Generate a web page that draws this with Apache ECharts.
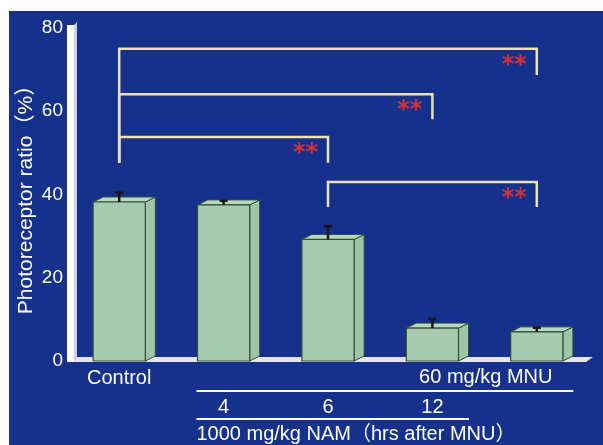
<!DOCTYPE html>
<html>
<head>
<meta charset="utf-8">
<script src="https://cdn.jsdelivr.net/npm/echarts@6/dist/echarts.min.js"></script>
<style>
html,body{margin:0;padding:0;background:#ffffff;width:603px;height:445px;overflow:hidden;}
#chart{position:absolute;left:9px;top:11px;width:594px;height:434px;}
</style>
</head>
<body>
<div id="chart"></div>
<script>
// ---- data ----
const categories = ['Control', 'NAM 4 h', 'NAM 6 h', 'NAM 12 h', 'MNU only'];
const ratioValues = [38.2, 37.5, 29.2, 7.9, 7.0];
const errorValues = [2.2, 1.0, 3.2, 2.2, 1.0];
const yTickLabels = ['0', '20', '40', '60', '80'];
const mainTickLabels = ['Control', '', '', '', ''];
const hourTickLabels = ['', '4', '6', '12', ''];
const sigFrom = [0, 0, 0, 2];
const sigTo = [4, 3, 2, 4];
const sigLevel = [75.0, 64.1, 53.8, 43.0];
const sigDropFrom = [47.6, 47.6, 47.6, 37.0];
const sigDropTo = [68.7, 58.1, 47.6, 37.0];
const sigMarks = ['**', '**', '**', '**'];
const groupTitleMNU = '60 mg/kg MNU';
const groupTitleNAM = '1000 mg/kg NAM（hrs after MNU）';
const yAxisTitle = 'Photoreceptor ratio（%）';

const FONT = '"Liberation Sans", Arial, "Noto Sans CJK SC", sans-serif';
const chart = echarts.init(document.getElementById('chart'), null, {renderer: 'canvas'});

function renderStage(params, api) {
  const cs = params.coordSys;
  const l = cs.x, t = cs.y, b = cs.y + cs.height, r = cs.x + cs.width;
  return {
    type: 'group',
    children: [
      {type: 'polygon', shape: {points: [[l, b + 1], [r - 3, b + 1], [r + 4, b - 4], [l + 7, b - 4]]},
       style: {fill: '#e6e4f4'}},
      {type: 'rect', shape: {x: l, y: t - 3, width: 7, height: b - t + 4}, style: {fill: '#ffffff'}},
      {type: 'polygon', shape: {points: [[l + 7, t - 3], [l + 10, t - 6], [l + 10, b - 4], [l + 7, b + 1]]},
       style: {fill: '#cfd0e8'}}
    ]
  };
}

function renderBar(params, api) {
  const i = api.value(0), v = api.value(1), e = api.value(2);
  const base = api.coord([i, 0]);
  const top = api.coord([i, v]);
  const errTop = api.coord([i, v + e]);
  const bw = api.size([1, 0])[0] * 0.5;
  const x0 = base[0] - bw / 2, x1 = base[0] + bw / 2;
  const dx = 10, dy = 5;
  const stroke = '#2f4f38';
  return {
    type: 'group',
    children: [
      {type: 'polygon', shape: {points: [[x1, top[1]], [x1 + dx, top[1] - dy], [x1 + dx, base[1] - dy], [x1, base[1]]]},
       style: {fill: '#9fc4a9', stroke: stroke, lineWidth: 1}},
      {type: 'polygon', shape: {points: [[x0, top[1]], [x0 + dx, top[1] - dy], [x1 + dx, top[1] - dy], [x1, top[1]]]},
       style: {fill: '#b8d8c1', stroke: stroke, lineWidth: 1}},
      {type: 'rect', shape: {x: x0, y: top[1], width: bw, height: base[1] - top[1]},
       style: {fill: '#a7cbb1', stroke: stroke, lineWidth: 1.2}},
      {type: 'line', shape: {x1: base[0], y1: top[1], x2: base[0], y2: errTop[1]},
       style: {stroke: '#151515', lineWidth: 2.5}},
      {type: 'line', shape: {x1: base[0] - 4, y1: errTop[1], x2: base[0] + 4, y2: errTop[1]},
       style: {stroke: '#151515', lineWidth: 2.5}}
    ]
  };
}

function renderSig(params, api) {
  const f = api.value(0), t = api.value(1), lv = api.value(2), df = api.value(3), dt = api.value(4);
  const idx = params.dataIndex;
  const pL = api.coord([f, lv]), pR = api.coord([t, lv]);
  const pLd = api.coord([f, df]), pRd = api.coord([t, dt]);
  const col = '#ece2b4';
  return {
    type: 'group',
    children: [
      {type: 'polyline', shape: {points: [[pLd[0], pLd[1]], [pL[0], pL[1]], [pR[0], pR[1]], [pRd[0], pRd[1]]]},
       style: {stroke: col, lineWidth: 2.5, fill: null}},
      {type: 'text', style: {text: sigMarks[idx], x: pR[0] - 10, y: pR[1] + 17, align: 'right', verticalAlign: 'middle',
        fill: '#d63034', font: 'bold 24px "DejaVu Sans", sans-serif'}}
    ]
  };
}

const option = {
  backgroundColor: '#15318b',
  animation: false,
  grid: {left: 58, right: 14, top: 17, bottom: 84, containLabel: false, outerBoundsMode: 'none'},
  xAxis: [
    {type: 'category', data: categories, position: 'bottom',
     axisLine: {show: false}, axisTick: {show: false}, splitLine: {show: false},
     axisLabel: {interval: 0, margin: 7, color: '#ffffff', fontSize: 20, fontFamily: FONT,
       formatter: (v, i) => mainTickLabels[i]}},
    {type: 'category', data: categories, position: 'bottom',
     axisLine: {show: false}, axisTick: {show: false}, splitLine: {show: false},
     axisLabel: {interval: 0, margin: 36, color: '#ffffff', fontSize: 20, fontFamily: FONT,
       formatter: (v, i) => hourTickLabels[i]}}
  ],
  yAxis: {
    type: 'value', min: 0, max: 80, interval: 20,
    name: yAxisTitle, nameLocation: 'middle', nameRotate: 90, nameGap: 30, nameMoveOverlap: false,
    nameTextStyle: {color: '#ffffff', fontSize: 21, fontFamily: FONT},
    axisLine: {show: false}, axisTick: {show: false}, splitLine: {show: false},
    axisLabel: {color: '#ffffff', fontSize: 19, fontFamily: FONT, margin: 4,
      formatter: (v) => yTickLabels[Math.round(v / 20)]}
  },
  series: [
    {type: 'custom', z: 1, silent: true, clip: false, renderItem: renderStage, data: [[0, 0]]},
    {type: 'custom', z: 2, silent: true, clip: false, renderItem: renderBar,
     data: categories.map((c, i) => [i, ratioValues[i], errorValues[i]])},
    {type: 'custom', z: 3, silent: true, clip: false, renderItem: renderSig,
     data: sigFrom.map((f, i) => [f, sigTo[i], sigLevel[i], sigDropFrom[i], sigDropTo[i]])}
  ]
};
chart.setOption(option);

// group annotation under the axis, positioned from the axis scale
const px = (i) => chart.convertToPixel({xAxisIndex: 0}, i);
const floorY = chart.convertToPixel({yAxisIndex: 0}, 0);
const band = px(1) - px(0);
const lineStart = px(1) - band * 0.26;
const y1 = floorY + 30, y2 = floorY + 58;
chart.setOption({
  graphic: [
    {type: 'line', shape: {x1: lineStart, y1: y1, x2: px(4) + band * 0.35, y2: y1}, style: {stroke: '#ffffff', lineWidth: 2}},
    {type: 'text', style: {text: groupTitleMNU, x: px(4) + band * 0.15, y: floorY + 16, align: 'right', verticalAlign: 'middle',
      fill: '#ffffff', font: '20px ' + FONT}},
    {type: 'line', shape: {x1: lineStart, y1: y2, x2: px(3) + band * 0.35, y2: y2}, style: {stroke: '#ffffff', lineWidth: 2}},
    {type: 'text', style: {text: groupTitleNAM, x: lineStart, y: floorY + 73, align: 'left', verticalAlign: 'middle',
      fill: '#ffffff', font: '20px ' + FONT}}
  ]
});
</script>
</body>
</html>
